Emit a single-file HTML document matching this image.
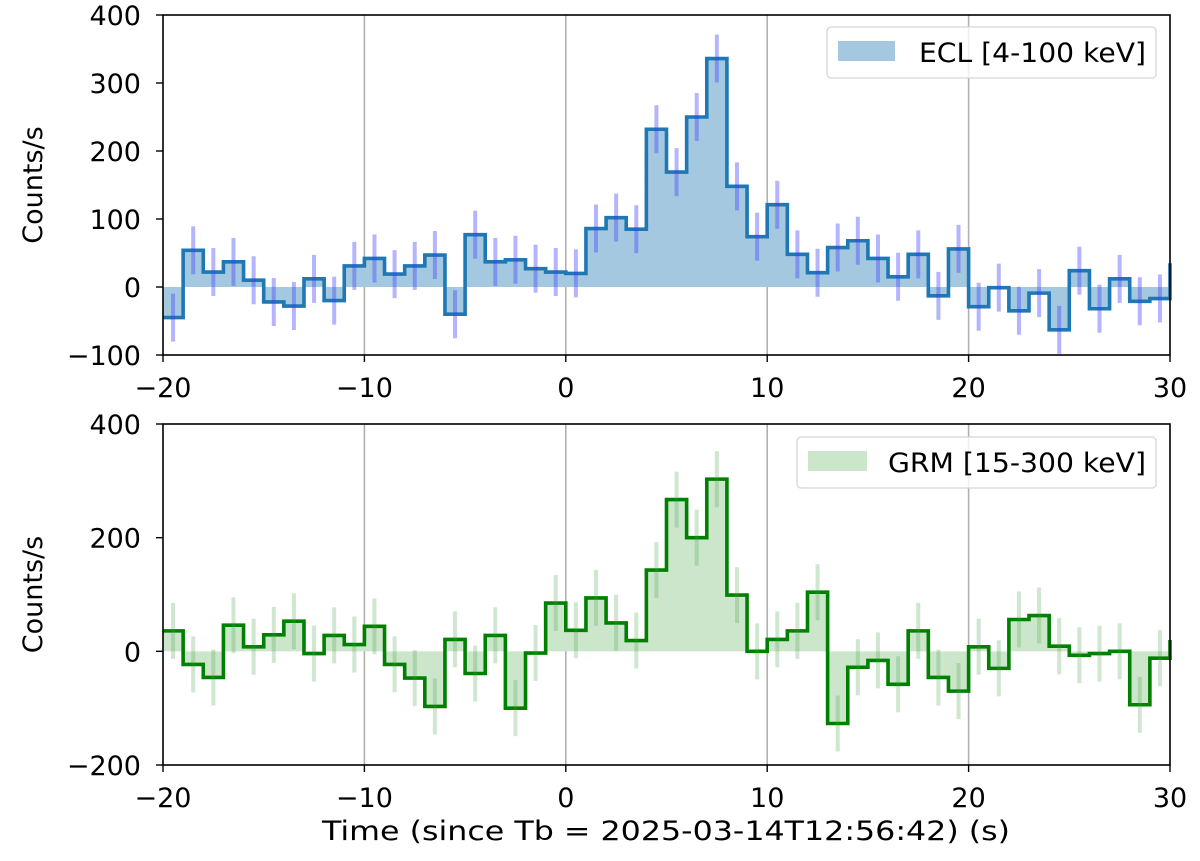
<!DOCTYPE html>
<html><head><meta charset="utf-8"><style>
body{margin:0;background:#fff}
svg text{font-family:"DejaVu Sans","Liberation Sans",sans-serif;fill:#000}
</style></head><body>
<svg id="s" width="1200" height="856" xmlns="http://www.w3.org/2000/svg"></svg>
<script>
(function(){
const S=document.getElementById('s');
let h='';
const X0=163,X1=1170;const px=t=>X0+(t+20)*(X1-X0)/50;
const dTop=[-45,54,22,37,10,-22,-28,12,-20,31,42,19,31,47,-40,77,37,40,27,22,20,86,102,85,232,169,250,336,148,74,121,48,21,58,68,42,15,48,-13,56,-29,-1,-35,-9,-63,24,-32,12,-21,-17];
const dBot=[36,-23,-46,46,8,29,53,-4,28,12,44,-23,-47,-97,21,-39,28,-100,-3,85,37,94,50,19,143,267,200,303,99,0,21,36,104,-127,-28,-16,-58,36,-46,-70,8,-30,56,63,9,-7,-4,0,-94,-12];
function panel(d,endV,yT,yB,vT,vB,ticks,line,fill,err,errH,leg,lx,lw,ly,tx){
 const py=v=>yT+(vT-v)*(yB-yT)/(vT-vB);
 const y0=py(0);
 for(const t of [-10,0,10,20]) h+=`<line x1="${px(t)}" x2="${px(t)}" y1="${yT}" y2="${yB}" stroke="#b0b0b0" stroke-width="1.6"/>`;
 let f=`M${px(-20)},${y0}`;
 d.forEach((v,i)=>{f+=` L${px(-20+i)},${py(v)} L${px(-19+i)},${py(v)}`});
 f+=` L${px(30)},${y0} Z`;
 h+=`<path d="${f}" fill="${fill}"/>`;
 let l=`M${px(-20)},${py(d[0])}`;
 d.forEach((v,i)=>{l+=` L${px(-20+i)},${py(v)} L${px(-19+i)},${py(v)}`});
 l+=` L${px(30)},${py(endV)}`;
 h+=`<path d="${l}" fill="none" stroke="${line}" stroke-width="3.6"/>`;
 d.forEach((v,i)=>{const c=px(-19.5+i);h+=`<line x1="${c}" x2="${c}" y1="${py(v)-errH}" y2="${py(v)+errH}" stroke="${err}" stroke-width="4"/>`});
 h+=`<rect x="${X0}" y="${yT}" width="${X1-X0}" height="${yB-yT}" fill="none" stroke="#000" stroke-width="1.6"/>`;
 for(const v of ticks){const y=py(v);h+=`<line x1="${X0-7}" x2="${X0}" y1="${y}" y2="${y}" stroke="#000" stroke-width="1.4"/><text x="${X0-22}" y="${y+10}" font-size="27" text-anchor="end">${v<0?'\u2212'+(-v):v}</text>`;}
 for(const t of [-20,-10,0,10,20,30]){const x=px(t);h+=`<line x1="${x}" x2="${x}" y1="${yB}" y2="${yB+7}" stroke="#000" stroke-width="1.4"/><text x="${x}" y="${yB+42}" font-size="27" text-anchor="middle">${t<0?'\u2212'+(-t):t}</text>`;}
 h+=`<text transform="translate(42,${(yT+yB)/2}) rotate(-90)" font-size="27" text-anchor="middle">Counts/s</text>`;
 h+=`<rect x="${lx}" y="${ly}" width="${1156-lx}" height="51" rx="4" fill="#fff" fill-opacity="0.8" stroke="#d6d6d6" stroke-width="1.3"/>`;
 h+=`<rect x="${lx+11}" y="${ly+14}" width="${lw}" height="20" fill="${fill}"/>`;
 h+=`<text x="${tx}" y="${ly+35}" font-size="27" textLength="${1146-tx}" lengthAdjust="spacingAndGlyphs">${leg}</text>`;
}
panel(dTop,35,15,355,400,-100,[400,300,200,100,0,-100],'#1f77b4','#a5c8e1','rgba(60,60,255,0.38)',24,'ECL [4-100 keV]',827,57,27,919);
panel(dBot,20,424,765,400,-200,[400,200,0,-200],'#008000','#cce6cc','rgba(60,160,60,0.25)',28,'GRM [15-300 keV]',797,59,437,888);
h+=`<text x="322" y="840" font-size="27" textLength="688" lengthAdjust="spacingAndGlyphs">Time (since Tb = 2025-03-14T12:56:42) (s)</text>`;
S.innerHTML=h;
})();
</script>
</body></html>
